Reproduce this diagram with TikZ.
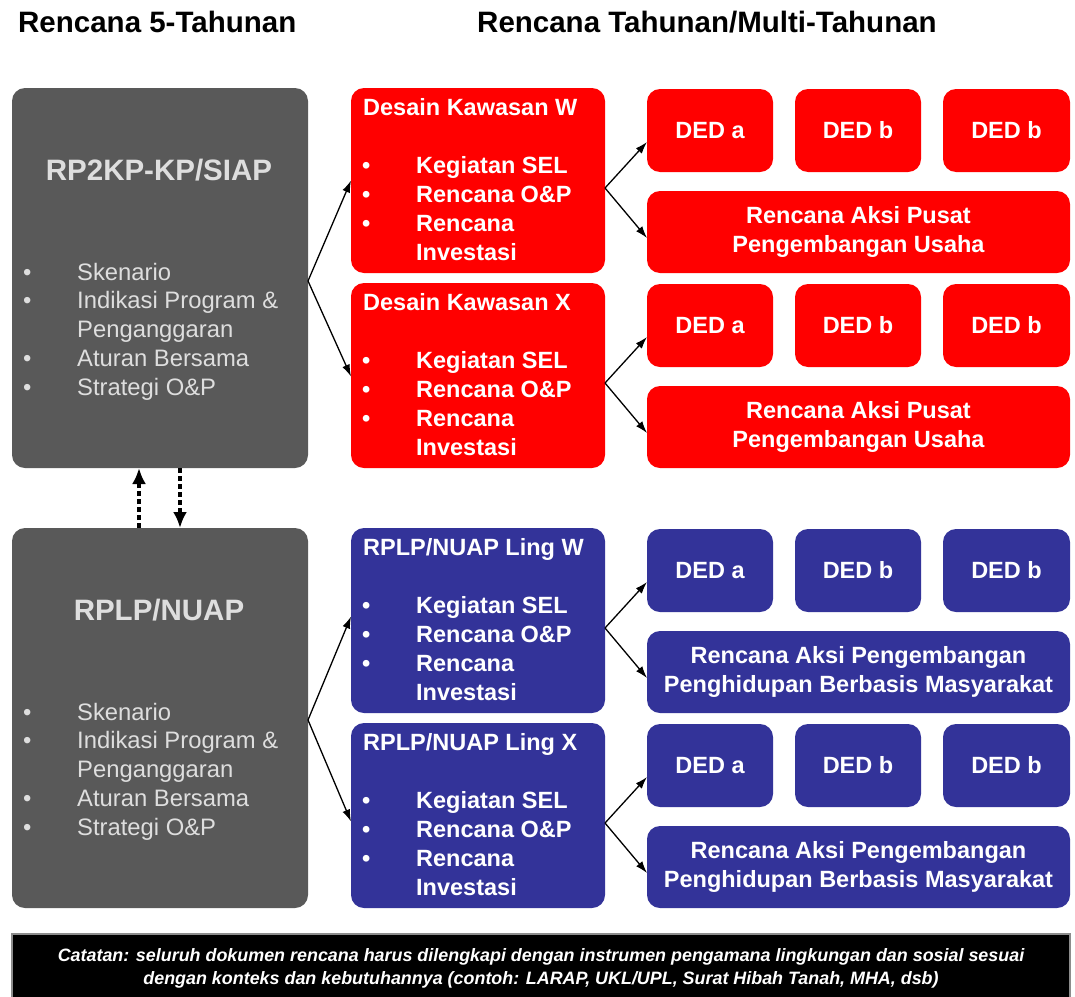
\documentclass[tikz,border=0pt]{standalone}
\usepackage{fontspec}
\setmainfont{Liberation Sans}
\usetikzlibrary{arrows.meta,calc}
\definecolor{myGray}{RGB}{89,89,89}
\definecolor{myRed}{RGB}{255,0,0}
\definecolor{myBlue}{RGB}{51,51,153}
\definecolor{myGText}{RGB}{222,222,222}
\newcommand{\pxbox}[6]{%
  \node[#6, minimum width={#4-#2}, minimum height={#5-#3}] (#1) at ({(#2+#4)/2},{(#3+#5)/2}) {};}
\tikzset{
  pbox/.style={rounded corners=13pt, inner sep=0pt, outer sep=0pt, draw=none},
  headtxt/.style={anchor=base west, inner sep=0pt, font=\bfseries\fontsize{29.5}{34}\selectfont},
  gtitle/.style={anchor=base, inner sep=0pt, text=myGText, font=\bfseries\fontsize{29.5}{34}\selectfont},
  gtxt/.style={anchor=base west, inner sep=0pt, text=myGText, font=\fontsize{23.8}{29}\selectfont},
  wtxt/.style={anchor=base west, inner sep=0pt, text=white, font=\bfseries\fontsize{23.5}{29}\selectfont},
  conn/.style={line width=1.3pt, -{Latex[length=12pt,width=8pt]}},
  dasharrow/.style={line width=3.4pt, dash pattern=on 5pt off 3pt, -{Latex[length=16pt,width=14pt]}},
}
\begin{document}
\begin{tikzpicture}[x=1pt, y=-1pt]
\useasboundingbox (0,0) rectangle (1075,996);

% headings
\node[headtxt] (h1) at (18,32) {Rencana 5-Tahunan};
\node[headtxt] (h2) at (477,32) {Rencana Tahunan/Multi-Tahunan};

% gray boxes
\pxbox{g1}{12}{88}{308}{468}{pbox, fill=myGray}
\pxbox{g2}{12}{528}{308}{908}{pbox, fill=myGray}
\node[gtitle] (g1t) at (159,180) {RP2KP-KP/SIAP};
\node[gtitle] (g2t) at (159,620) {RPLP/NUAP};
\foreach \G/\B in {g1/280, g2/720}{
  \foreach \b/\s [count=\k from 0] in {1/Skenario, 1/Indikasi Program \&, 0/Penganggaran, 1/Aturan Bersama, 1/Strategi O\&P}{
    \node[gtxt] (\G l\k) at (77,{\B+28.75*\k}) {\s};
    \ifnum\b=1 \node[gtxt] (\G b\k) at (23,{\B+28.75*\k}) {•};\fi
  }
}

% colored groups
\foreach \T/\C/\N/\La/\Lb [count=\i] in {
  88/myRed/{Desain Kawasan W}/{Rencana Aksi Pusat}/{Pengembangan Usaha},
  283/myRed/{Desain Kawasan X}/{Rencana Aksi Pusat}/{Pengembangan Usaha},
  528/myBlue/{RPLP/NUAP Ling W}/{Rencana Aksi Pengembangan}/{Penghidupan Berbasis Masyarakat},
  723/myBlue/{RPLP/NUAP Ling X}/{Rencana Aksi Pengembangan}/{Penghidupan Berbasis Masyarakat}}{
  \pxbox{m\i}{351}{\T}{605}{\T+185}{pbox, fill=\C}
  \node[wtxt] (m\i t) at (363,\T+27) {\N};
  \foreach \s [count=\k from 0] in {Kegiatan SEL, Rencana O\&P, Rencana}{
    \node[wtxt] (m\i l\k) at (416,{\T+85+29*\k}) {\s};
    \node[wtxt] (m\i b\k) at (362,{\T+85+29*\k}) {•};
  }
  \node[wtxt] (m\i l3) at (416,{\T+85+29*3}) {Investasi};
  \node[pbox, fill=\C, text=white, font=\bfseries\fontsize{23.5}{29}\selectfont,
        minimum width=126, minimum height=83] (da\i) at (710,\T+42.5) {DED a};
  \node[pbox, fill=\C, text=white, font=\bfseries\fontsize{23.5}{29}\selectfont,
        minimum width=126, minimum height=83] (db\i) at (858,\T+42.5) {DED b};
  \node[pbox, fill=\C, text=white, font=\bfseries\fontsize{23.5}{29}\selectfont,
        minimum width=127, minimum height=83] (dc\i) at (1006.5,\T+42.5) {DED b};
  \node[pbox, fill=\C, text=white, align=center, font=\bfseries\fontsize{23.5}{29}\selectfont,
        minimum width=423, minimum height=82] (ak\i) at (858.5,\T+144) {\La\\\Lb};
  \draw[conn] ([yshift=-7.5pt]m\i.east) -- ([yshift=-11.5pt]da\i.west);
  \draw[conn] ([yshift=-7.5pt]m\i.east) -- ([yshift=-6pt]ak\i.west);
}

% arrows from gray boxes
\draw[conn] ([yshift=-3pt]g1.east) -- (m1.west);
\draw[conn] ([yshift=-3pt]g1.east) -- ([yshift=-1pt]m2.west);
\draw[conn] ([yshift=-2pt]g2.east) -- ([yshift=4pt]m3.west);
\draw[conn] ([yshift=-2pt]g2.east) -- ([yshift=-6pt]m4.west);

% dashed arrows between gray boxes
\draw[dasharrow] ([xshift=-21pt]g2.north) -- ([xshift=-21pt]g1.south);
\draw[dasharrow] ([xshift=20pt]g1.south) -- ([xshift=20pt]g2.north);

% note
\pxbox{nb}{12}{934}{1070}{1000}{draw=black!45, line width=1.5pt, fill=black, inner sep=0pt}
\node[text=white, align=center, inner sep=0pt, font=\bfseries\itshape\fontsize{17.9}{23}\selectfont] (nt) at (541,968)
  {Catatan: seluruh dokumen rencana harus dilengkapi dengan instrumen pengamana lingkungan dan sosial sesuai\\
   dengan konteks dan kebutuhannya (contoh: LARAP, UKL/UPL, Surat Hibah Tanah, MHA, dsb)};
\end{tikzpicture}
\end{document}
